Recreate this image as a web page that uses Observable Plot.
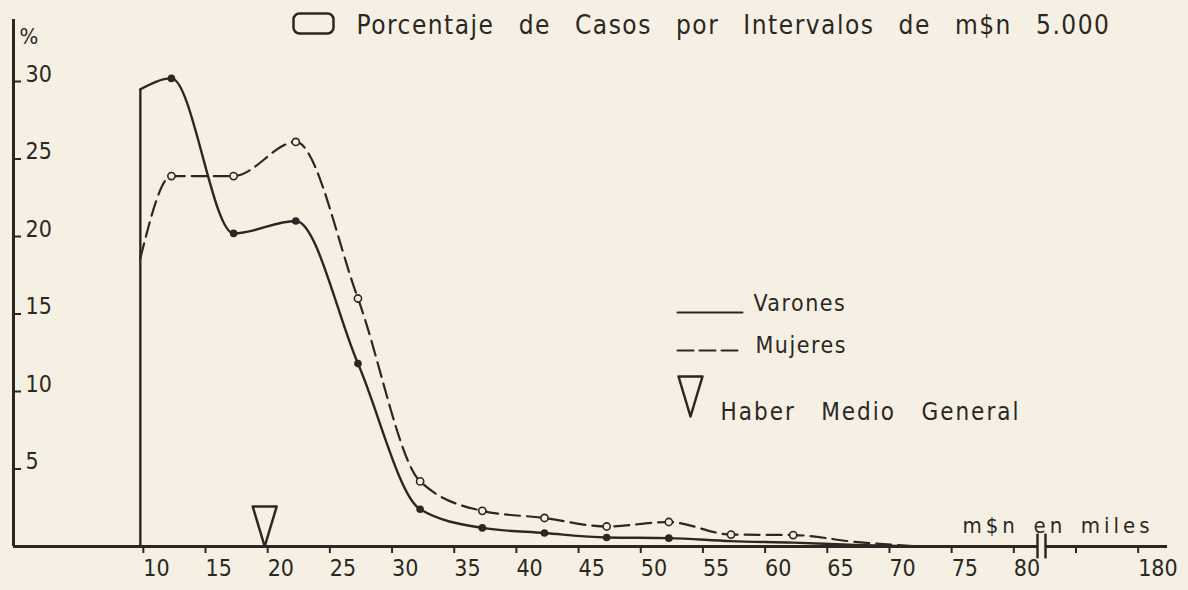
<!DOCTYPE html>
<html><head><meta charset="utf-8">
<script src="https://cdn.jsdelivr.net/npm/d3@7"></script>
<script src="https://cdn.jsdelivr.net/npm/@observablehq/plot@0.6"></script>
<style>
html,body{margin:0;padding:0;background:#f6f0e4;}
#chart{width:1188px;height:590px;}
</style></head><body><div id="chart"></div>
<script>
// ---- Data (x = m$n en miles; y = % de casos) ----
const sueldos = [10, 12.5, 17.5, 22.5, 27.5, 32.5, 37.5, 42.5, 47.5, 52.5, 57.5, 62.5, 67.5, 72.5];
const varones = [29.5, 30.2, 20.2, 21.0, 11.8, 2.4, 1.2, 0.87, 0.58, 0.54, 0.35, 0.25, 0.1, 0];
const mujeres = [18.6, 23.9, 23.9, 26.1, 16.0, 4.2, 2.3, 1.84, 1.29, 1.58, 0.77, 0.74, 0.3, 0];
const varonesMarcados = 9;   // puntos marcados: 12.5 .. 52.5
const mujeresMarcadas = 11;  // puntos marcados: 12.5 .. 62.5
const haberMedio = 20;
const xTickValues = [10, 15, 20, 25, 30, 35, 40, 45, 50, 55, 60, 65, 70, 75, 80, 175, 180];
const xTickLabels = ["10","15","20","25","30","35","40","45","50","55","60","65","70","75","80","","180"];
const yTickValues = [5, 10, 15, 20, 25, 30];
const titulo = "Porcentaje de Casos por Intervalos de m$n 5.000";
const serieNombres = ["Varones", "Mujeres"];
const haberNombre = "Haber Medio General";
const ejeXNombre = "m$n en miles";
const ejeYNombre = "%";

// ---- Layout ----
const W = 1188, H = 590, ML = 13, MR = 21, MT = 19, MB = 44;
const xDomain = [-0.2, 92.6], yDomain = [0, 34];
const kx = (W - ML - MR) / (xDomain[1] - xDomain[0]);
const ky = (H - MT - MB) / (yDomain[1] - yDomain[0]);
const px = p => xDomain[0] + (p - ML) / kx;
const py = p => (H - MB - p) / ky;
const disp = v => v >= 170 ? v - 90 : v;      // broken axis: 170+ shifted
const corte = [px(1037), px(1045)];
const ink = "#2b2723", bg = "#f6f0e4";
const FONT = "'DejaVu Sans Condensed', 'Liberation Sans Narrow', sans-serif";

const rows = sueldos.map((s, i) => ({s, v: varones[i], m: mujeres[i], i}));
const tickLabel = new Map(xTickValues.map((v, i) => [disp(v), xTickLabels[i]]));

const trianguloInv = {draw(ctx) { ctx.moveTo(0, 0); ctx.lineTo(-12, -40); ctx.lineTo(12, -40); ctx.closePath(); }};
const rectRedondo = {draw(ctx) {
  const w = 20, h = 10, r = 6;
  ctx.moveTo(-w + r, -h); ctx.lineTo(w - r, -h); ctx.arcTo(w, -h, w, -h + r, r);
  ctx.lineTo(w, h - r); ctx.arcTo(w, h, w - r, h, r); ctx.lineTo(-w + r, h);
  ctx.arcTo(-w, h, -w, h - r, r); ctx.lineTo(-w, -h + r); ctx.arcTo(-w, -h, -w + r, -h, r); ctx.closePath();
}};
const dash = "15,7";
const label = (t, x, y, size) => Plot.text([t], {x: px(x), y: py(y), text: d => d, textAnchor: "start", lineAnchor: "bottom", fontSize: size, fill: ink});

const svg = Plot.plot({
  width: W, height: H, marginLeft: ML, marginRight: MR, marginTop: MT, marginBottom: MB,
  style: {background: bg, color: ink, fontFamily: FONT, overflow: "visible"},
  x: {domain: xDomain, label: null},
  y: {domain: yDomain, label: null},
  marks: [
    Plot.axisX(xTickValues.map(disp), {anchor: "bottom", label: null, tickSize: 7, tickPadding: 6, textAnchor: "start", dx: 3, lineAnchor: "top", fontSize: 23, strokeWidth: 2, tickFormat: d => tickLabel.get(d), fill: ink}),
    Plot.axisY(yTickValues, {anchor: "left", label: null, tickSize: 0, tickPadding: -12, textAnchor: "start", lineAnchor: "bottom", fontSize: 23, fill: ink}),
    Plot.ruleY(yTickValues, {x1: xDomain[0], x2: xDomain[0] + 8 / kx, strokeWidth: 2, stroke: ink}),
    Plot.ruleX([xDomain[0]], {y1: 0, y2: yDomain[1], strokeWidth: 3, stroke: ink}),
    Plot.ruleY([0], {x1: xDomain[0], x2: corte[0], strokeWidth: 3, stroke: ink}),
    Plot.ruleY([0], {x1: corte[1], x2: xDomain[1], strokeWidth: 3, stroke: ink}),
    Plot.ruleX(corte, {y1: -0.8, y2: 0.8, strokeWidth: 2.5, stroke: ink}),
    // series
    Plot.ruleX([sueldos[0]], {y1: 0, y2: varones[0], strokeWidth: 2.4, stroke: ink}),
    Plot.line(rows, {x: "s", y: "v", curve: "monotone-x", strokeWidth: 2.4, stroke: ink}),
    Plot.line(rows, {x: "s", y: "m", curve: "monotone-x", strokeWidth: 2.2, stroke: ink, strokeDasharray: dash}),
    Plot.dot(rows.filter(d => d.i >= 1 && d.i <= varonesMarcados), {x: "s", y: "v", r: 3.8, fill: ink, stroke: "none"}),
    Plot.dot(rows.filter(d => d.i >= 1 && d.i <= mujeresMarcadas), {x: "s", y: "m", r: 3.6, fill: bg, stroke: ink, strokeWidth: 1.6}),
    Plot.dot([haberMedio], {x: d => d, y: 0, symbol: trianguloInv, r: 4, fill: "none", stroke: ink, strokeWidth: 2.5, strokeLinejoin: "round"}),
    // title
    Plot.dot([0], {x: px(313), y: py(23), symbol: rectRedondo, r: 4, fill: "none", stroke: ink, strokeWidth: 2.5}),
    label(titulo, 356, 33, 26),
    label(ejeYNombre, 19, 43, 22),
    // legend
    Plot.line([[px(677), py(312)], [px(742), py(312)]], {stroke: ink, strokeWidth: 2}),
    Plot.line([[px(677), py(350)], [px(742), py(350)]], {stroke: ink, strokeWidth: 2, strokeDasharray: "16,6"}),
    label(serieNombres[0], 753, 310, 23),
    label(serieNombres[1], 755, 352, 23),
    Plot.dot([0], {x: px(690), y: py(416), symbol: trianguloInv, r: 4, fill: "none", stroke: ink, strokeWidth: 2.5, strokeLinejoin: "round"}),
    label(haberNombre, 720, 419, 24),
    label(ejeXNombre, 962, 532, 22)
  ]
});
document.getElementById("chart").appendChild(svg);
// spread letters a little and words widely, as in the hand lettering
const spans = new Map([[titulo, [754, 1.5]], [serieNombres[0], [94, 1.5]], [serieNombres[1], [92, 1.5]], [haberNombre, [300, 2]], [ejeXNombre, [191, 4]]]);
svg.querySelectorAll("text").forEach(t => {
  const s = spans.get(t.textContent);
  if (!s) return;
  const [L, ls] = s;
  t.style.letterSpacing = ls + "px";
  const nSp = (t.textContent.match(/ /g) || []).length;
  const nat = t.getComputedTextLength();
  if (nSp > 0) t.style.wordSpacing = Math.max(0, (L - nat) / nSp) + "px";
  const now = t.getComputedTextLength();
  if (Math.abs(now - L) > 3) { t.setAttribute("textLength", L); t.setAttribute("lengthAdjust", "spacing"); }
});
</script></body></html>
